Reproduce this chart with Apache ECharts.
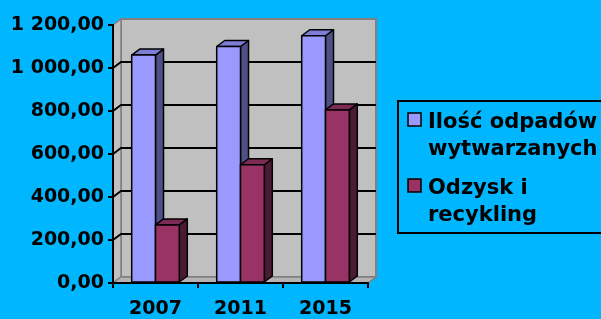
<!DOCTYPE html>
<html>
<head>
<meta charset="utf-8">
<script src="https://cdn.jsdelivr.net/npm/echarts@6/dist/echarts.min.js"></script>
<style>
  html, body { margin: 0; padding: 0; background: #00B6FF; }
  #chart { width: 601px; height: 319px; }
</style>
</head>
<body>
<div id="chart"></div>
<script>
// dane
const years = ['2007', '2011', '2015']
const seriesNames = ['Ilość odpadów\nwytwarzanych', 'Odzysk i\nrecykling']
const generated = [1060, 1100, 1150]
const recovered = [270, 550, 805]
const yTicks = [0, 200, 400, 600, 800, 1000, 1200]

const frontColors = ['#9999FF', '#993366']
const sideColors = ['#505088', '#4B1A33']
const topColors = ['#7E7ED6', '#7D2A55']

// przesuniecie perspektywy 3D
const DX = 8
const DY = -6
const FONT = 'DejaVu Sans'

const chart = echarts.init(document.getElementById('chart'))

const fmt = v => {
  const s = v.toFixed(2).replace('.', ',')
  const [i, d] = s.split(',')
  return i.replace(/\B(?=(\d{3})+(?!\d))/g, ' ') + ',' + d
}

// sciany i podloga
const renderWalls = (params, api) => {
  const cs = params.coordSys
  const x0 = cs.x, x1 = cs.x + cs.width
  const yb = cs.y + cs.height, yt = cs.y
  const children = []
  children.push({
    type: 'rect',
    shape: { x: x0 + DX, y: yt + DY, width: cs.width, height: cs.height },
    style: { fill: '#C0C0C0', stroke: '#808080', lineWidth: 2 }
  })
  children.push({
    type: 'polygon',
    shape: { points: [[x0, yb], [x0, yt], [x0 + DX, yt + DY], [x0 + DX, yb + DY]] },
    style: { fill: '#C0C0C0', stroke: '#808080', lineWidth: 1.5 }
  })
  yTicks.forEach(v => {
    if (v === 0 || v === yTicks[yTicks.length - 1]) return
    const y = api.coord([0, v])[1]
    children.push({
      type: 'polyline',
      shape: { points: [[x0, y], [x0 + DX, y + DY], [x1 + DX, y + DY]] },
      style: { stroke: '#000', lineWidth: 2, fill: null }
    })
  })
  children.push({
    type: 'polygon',
    shape: { points: [[x0, yb], [x1, yb], [x1 + DX, yb + DY], [x0 + DX, yb + DY]] },
    style: { fill: '#B4B4B4', stroke: '#808080', lineWidth: 1.5 }
  })
  return { type: 'group', children }
}

// slupki 3D
const makeBarRenderer = (si) => (params, api) => {
  const top = api.coord([api.value(0), api.value(1)])
  const base = api.coord([api.value(0), 0])
  const band = api.size([1, 0])[0]
  const w = band * 0.28
  const x = top[0] + (si === 0 ? -w : 0)
  const yt = top[1]
  const yb = base[1] - 1
  const line = { stroke: '#000', lineWidth: 1.5, lineJoin: 'round' }
  return {
    type: 'group',
    children: [
      {
        type: 'polygon',
        shape: { points: [[x + w, yt], [x + w + DX, yt + DY], [x + w + DX, yb + DY], [x + w, yb]] },
        style: Object.assign({ fill: sideColors[si] }, line)
      },
      {
        type: 'polygon',
        shape: { points: [[x, yt], [x + DX, yt + DY], [x + w + DX, yt + DY], [x + w, yt]] },
        style: Object.assign({ fill: topColors[si] }, line)
      },
      {
        type: 'rect',
        shape: { x: x, y: yt, width: w, height: yb - yt },
        style: Object.assign({ fill: frontColors[si] }, line)
      }
    ]
  }
}

// legenda
const legendChildren = [{
  type: 'rect',
  shape: { x: 398, y: 101, width: 230, height: 132 },
  style: { fill: null, stroke: '#000', lineWidth: 2 }
}]
seriesNames.forEach((name, i) => {
  const y = 113 + i * 66
  legendChildren.push({
    type: 'rect',
    shape: { x: 408, y: y, width: 13, height: 13 },
    style: { fill: frontColors[i], stroke: '#000', lineWidth: 1.5 }
  })
  legendChildren.push({
    type: 'text',
    x: 428,
    y: y - 4,
    style: {
      text: name,
      font: 'bold 21px "' + FONT + '"',
      lineHeight: 27,
      fill: '#000',
      verticalAlign: 'top'
    }
  })
})

const option = {
  backgroundColor: '#00B6FF',
  animation: false,
  grid: { left: 113, top: 25, width: 255, height: 258 },
  xAxis: {
    type: 'category',
    data: years,
    axisLine: { lineStyle: { color: '#000', width: 2 } },
    axisTick: { show: true, length: 5, lineStyle: { color: '#000', width: 2 } },
    axisLabel: { color: '#000', fontFamily: FONT, fontWeight: 'bold', fontSize: 19, margin: 17 },
    splitLine: { show: false },
    z: 5
  },
  yAxis: {
    type: 'value',
    min: 0,
    max: 1200,
    interval: 200,
    axisLine: { show: true, lineStyle: { color: '#000', width: 2 } },
    axisTick: { show: true, length: 5, lineStyle: { color: '#000', width: 2 } },
    axisLabel: { color: '#000', fontFamily: FONT, fontWeight: 'bold', fontSize: 19, margin: 9, formatter: fmt },
    splitLine: { show: false },
    z: 5
  },
  series: [
    {
      type: 'custom',
      name: 'walls',
      silent: true,
      clip: false,
      z: 1,
      renderItem: renderWalls,
      data: [[0, 0]]
    },
    {
      type: 'custom',
      name: seriesNames[0],
      clip: false,
      z: 2,
      renderItem: makeBarRenderer(0),
      encode: { x: 0, y: 1 },
      data: generated.map((v, i) => [i, v])
    },
    {
      type: 'custom',
      name: seriesNames[1],
      clip: false,
      z: 3,
      renderItem: makeBarRenderer(1),
      encode: { x: 0, y: 1 },
      data: recovered.map((v, i) => [i, v])
    }
  ],
  graphic: [{ type: 'group', children: legendChildren }]
}

chart.setOption(option)
</script>
</body>
</html>
